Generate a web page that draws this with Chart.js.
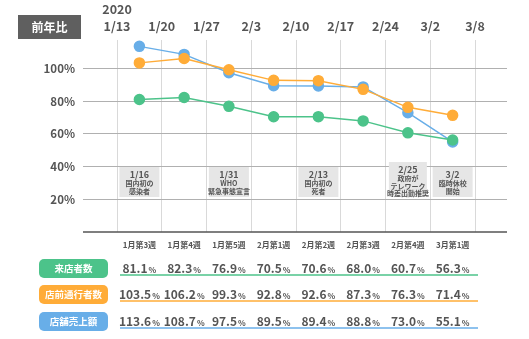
<!DOCTYPE html>
<html>
<head>
<meta charset="utf-8">
<script src="https://cdn.jsdelivr.net/npm/chart.js@4"></script>
<style>
  html, body { margin: 0; padding: 0; background: #fff; }
  #wrap { width: 529px; height: 339px; position: relative; }
</style>
</head>
<body>
<div id="wrap"><canvas id="myChart"></canvas></div>
<script>
// top axis dates (week boundaries)
dateLabels = [['2020', '1/13'], '1/20', '1/27', '2/3', '2/10', '2/17', '2/24', '3/2', '3/8']
// weeks (one point per week, between the date lines)
weekLabels = ['1月第3週', '1月第4週', '1月第5週', '2月第1週', '2月第2週', '2月第3週', '2月第4週', '3月第1週']

seriesNames = ['来店者数', '店前通行者数', '店舗売上額']
visitors = [81.1, 82.3, 76.9, 70.5, 70.6, 68.0, 60.7, 56.3]
passersby = [103.5, 106.2, 99.3, 92.8, 92.6, 87.3, 76.3, 71.4]
sales = [113.6, 108.7, 97.5, 89.5, 89.4, 88.8, 73.0, 55.1]
yTicks = [20, 40, 60, 80, 100]

// events shown in grey boxes, placed on the week they happened in
eventWeeks = [0, 2, 4, 6, 7]
eventTexts = [
  ['1/16', '国内初の', '感染者'],
  ['1/31', 'WHO', '緊急事態宣言'],
  ['2/13', '国内初の', '死者'],
  ['2/25', '政府が', 'テレワーク', '時差出勤推奨'],
  ['3/2', '臨時休校', '開始']
]

colors = ['#4cc38a', '#ffac38', '#68aee8']
allSeries = [visitors, passersby, sales]
FONT = '"Noto Sans CJK JP", "Noto Sans", sans-serif'

function toPoints(values)
{
    pts = []
    for (i = 0; i < values.length; i++)
    {
        pts.push({ x: i + 0.5, y: values[i] })
    }
    return pts
}

function roundRect(ctx, x, y, w, h, r)
{
    ctx.beginPath()
    ctx.moveTo(x + r, y)
    ctx.arcTo(x + w, y, x + w, y + h, r)
    ctx.arcTo(x + w, y + h, x, y + h, r)
    ctx.arcTo(x, y + h, x, y, r)
    ctx.arcTo(x, y, x + w, y, r)
    ctx.closePath()
}

// everything around the plot: label box, event boxes, the table below
extrasPlugin = {
    id: 'extras',
    beforeDatasetsDraw(chart)
    {
        var ctx = chart.ctx
        var xs = chart.scales.x
        ctx.save()

        // event boxes
        for (var e = 0; e < eventWeeks.length; e++)
        {
            var lines = eventTexts[e]
            var cx = xs.getPixelForValue(eventWeeks[e] + 0.5)
            var bottom = 197
            var h = lines.length == 4 ? 35 : 30
            var w = lines.length == 4 ? 38 : 40
            ctx.fillStyle = '#e6e6e6'
            ctx.fillRect(cx - w / 2, bottom - h, w, h)
            ctx.textAlign = 'center'
            ctx.textBaseline = 'middle'
            ctx.fillStyle = '#555'
            var yy = bottom - h + 8
            ctx.font = 'bold 9px ' + FONT
            ctx.fillText(lines[0], cx, yy)
            yy += 8.5
            ctx.font = 'bold 7px ' + FONT
            for (var k = 1; k < lines.length; k++)
            {
                ctx.fillText(lines[k], cx, yy)
                yy += 7.5
            }
        }
        ctx.restore()
    },
    afterDraw(chart)
    {
        var ctx = chart.ctx
        var xs = chart.scales.x
        var area = chart.chartArea
        ctx.save()

        // bottom axis line
        ctx.strokeStyle = '#555'
        ctx.lineWidth = 1.5
        ctx.beginPath()
        ctx.moveTo(area.left, area.bottom)
        ctx.lineTo(area.right, area.bottom)
        ctx.stroke()

        // 前年比 box
        ctx.fillStyle = '#5f5f5f'
        ctx.fillRect(18, 15, 63, 24)
        ctx.fillStyle = '#fff'
        ctx.font = 'bold 12px ' + FONT
        ctx.textAlign = 'center'
        ctx.textBaseline = 'middle'
        ctx.fillText('前年比', 49.5, 27)

        // week labels
        ctx.fillStyle = '#555'
        ctx.font = 'bold 8px ' + FONT
        for (var i = 0; i < weekLabels.length; i++)
        {
            ctx.fillText(weekLabels[i], xs.getPixelForValue(i + 0.5), 245)
        }

        // table rows
        var rowTops = [259, 285, 312]
        for (var r = 0; r < allSeries.length; r++)
        {
            var rowY = rowTops[r]
            ctx.fillStyle = colors[r]
            roundRect(ctx, 39, rowY, 69, 19, 5)
            ctx.fill()
            ctx.fillStyle = '#fff'
            ctx.font = 'bold 9.5px ' + FONT
            ctx.textAlign = 'center'
            ctx.textBaseline = 'middle'
            ctx.fillText(seriesNames[r], 73.5, rowY + 9.5)

            // underline
            ctx.strokeStyle = colors[r]
            ctx.lineWidth = 1.5
            ctx.beginPath()
            ctx.moveTo(120, rowY + 16)
            ctx.lineTo(478, rowY + 16)
            ctx.stroke()

            ctx.fillStyle = '#555'
            ctx.textAlign = 'left'
            ctx.textBaseline = 'alphabetic'
            for (i = 0; i < allSeries[r].length; i++)
            {
                var num = allSeries[r][i].toFixed(1)
                ctx.font = 'bold 12px ' + FONT
                var wNum = ctx.measureText(num).width
                ctx.font = 'bold 8px ' + FONT
                var wPct = ctx.measureText('%').width
                var x0 = xs.getPixelForValue(i + 0.5) - (wNum + wPct + 1) / 2
                ctx.font = 'bold 12px ' + FONT
                ctx.fillText(num, x0, rowY + 14)
                ctx.font = 'bold 8px ' + FONT
                ctx.fillText('%', x0 + wNum + 1, rowY + 14)
            }
        }
        ctx.restore()
    }
}

datasets = []
for (s = 0; s < allSeries.length; s++)
{
    datasets.push({
        label: seriesNames[s],
        data: toPoints(allSeries[s]),
        borderColor: colors[s],
        backgroundColor: colors[s],
        pointBackgroundColor: colors[s],
        pointBorderColor: colors[s],
        pointRadius: 5,
        borderWidth: 1.5,
        tension: 0
    })
}

var ctx0 = document.getElementById('myChart').getContext('2d')
var myChart = new Chart(ctx0, {
    type: 'line',
    data: { datasets: datasets },
    options: {
        responsive: true,
        maintainAspectRatio: false,
        animation: false,
        layout: { padding: { left: 0, right: 22, top: 0, bottom: 107 } },
        plugins: {
            legend: { display: false },
            tooltip: { enabled: false }
        },
        scales: {
            x: {
                type: 'linear',
                position: 'top',
                min: -0.76,
                max: 8.715,
                afterBuildTicks: function(axis) {
                    axis.ticks = dateLabels.map(function(_, i) { return { value: i } })
                },
                afterFit: function(scale) { scale.height = 40 },
                ticks: {
                    autoSkip: false,
                    maxRotation: 0,
                    padding: 6,
                    color: '#555',
                    font: { family: FONT, size: 12.5, weight: 'bold', lineHeight: 1.3 },
                    callback: function(v, i) { return dateLabels[i] }
                },
                grid: { color: '#d9d9d9', lineWidth: 1, drawTicks: false },
                border: { display: false }
            },
            y: {
                min: 0,
                max: 117.5,
                afterBuildTicks: function(axis) {
                    axis.ticks = yTicks.map(function(v) { return { value: v } })
                },
                afterFit: function(scale) { scale.width = 83 },
                ticks: {
                    padding: 8,
                    color: '#555',
                    font: { family: FONT, size: 11.5, weight: 'bold' },
                    callback: function(v) { return v + '%' }
                },
                grid: { color: '#b0b0b0', lineWidth: 1, drawTicks: false },
                border: { display: false }
            }
        }
    },
    plugins: [extrasPlugin]
})
</script>
</body>
</html>
